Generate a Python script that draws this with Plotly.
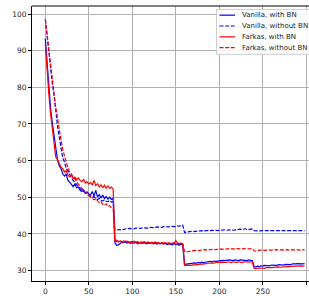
import plotly.graph_objects as go

# ---------------- data (every 2nd epoch) ----------------
epochs = list(range(0, 300, 2))

series_names = ["Vanilla, with BN", "Vanilla, without BN", "Farkas, with BN", "Farkas, without BN"]

vanilla_bn = [
    93.3, 86.0, 80.2, 74.5, 70.4, 66.8, 62.5, 60.2, 58.6, 57.9,
    56.4, 55.8, 56.3, 54.6, 54.1, 53.6, 52.9, 53.7, 52.6, 52.8,
    51.9, 51.6, 52.0, 51.1, 51.5, 50.9, 50.6, 51.6, 50.3, 51.9,
    50.1, 50.7, 49.8, 50.6, 49.7, 50.2, 49.5, 50.0, 49.4, 49.7,
    37.6, 36.9, 37.0, 37.4, 37.7, 37.6, 37.8, 37.5, 37.7, 37.4,
    37.6, 37.5, 37.7, 37.3, 37.6, 37.5, 37.4, 37.6, 37.3, 37.5,
    37.4, 37.6, 37.3, 37.5, 37.2, 37.4, 37.3, 37.5, 37.2, 37.4,
    37.1, 37.3, 37.2, 37.0, 37.3, 37.1, 37.2, 36.9, 37.2, 37.0,
    31.9, 31.7, 31.8, 31.9, 32.0, 31.9, 32.1, 32.0, 32.2, 32.1,
    32.3, 32.2, 32.3, 32.4, 32.3, 32.5, 32.4, 32.6, 32.5, 32.6,
    32.7, 32.6, 32.8, 32.7, 32.8, 32.7, 32.9, 32.8, 32.7, 32.9,
    32.8, 32.7, 32.9, 32.8, 32.9, 32.8, 32.7, 32.9, 32.8, 32.7,
    31.1, 31.0, 31.2, 31.1, 31.3, 31.2, 31.4, 31.3, 31.4, 31.3,
    31.5, 31.4, 31.5, 31.4, 31.6, 31.5, 31.6, 31.5, 31.7, 31.6,
    31.7, 31.6, 31.8, 31.7, 31.8, 31.9, 31.8, 31.9, 31.8, 31.9,
]

vanilla_nobn = [
    98.5, 93.8, 89.5, 85.2, 81.3, 78.0, 73.5, 69.5, 66.5, 63.5,
    60.8, 59.6, 58.0, 57.2, 56.0, 55.3, 54.6, 54.0, 53.3, 52.9,
    52.4, 52.0, 51.5, 51.2, 50.8, 50.5, 50.3, 49.9, 50.2, 49.6,
    49.4, 49.7, 49.2, 49.0, 49.3, 48.9, 48.8, 49.1, 48.7, 48.8,
    41.1, 41.0, 41.2, 41.1, 41.3, 41.2, 41.4, 41.3, 41.5, 41.4,
    41.5, 41.4, 41.6, 41.5, 41.6, 41.5, 41.7, 41.6, 41.7, 41.6,
    41.8, 41.7, 41.8, 41.7, 41.9, 41.8, 41.9, 41.8, 42.0, 41.9,
    42.0, 41.9, 42.1, 42.0, 42.1, 42.0, 42.2, 42.1, 42.3, 42.4,
    40.4, 40.5, 40.6, 40.5, 40.7, 40.6, 40.7, 40.8, 40.7, 40.8,
    40.9, 40.8, 40.9, 40.8, 41.0, 40.9, 41.0, 40.9, 41.0, 40.9,
    41.0, 41.1, 41.0, 41.1, 41.0, 41.1, 41.2, 41.1, 41.0, 41.1,
    41.2, 41.1, 41.3, 41.2, 41.3, 41.4, 41.2, 41.3, 41.2, 41.3,
    40.9, 40.8, 40.9, 40.8, 40.9, 40.9, 40.8, 40.9, 41.0, 40.9,
    40.9, 41.0, 40.9, 41.0, 40.9, 41.0, 41.0, 40.9, 41.0, 41.0,
    40.9, 41.0, 41.0, 40.9, 41.0, 41.0, 40.9, 41.0, 41.0, 40.9,
]

farkas_bn = [
    92.0, 84.0, 78.3, 72.8, 69.0, 65.3, 61.0, 60.3, 59.4, 58.2,
    57.8, 56.9, 57.3, 56.0, 55.6, 56.2, 55.1, 55.5, 54.8, 55.3,
    54.6, 54.2, 54.9, 53.9, 54.3, 53.6, 54.0, 53.4, 54.6, 53.2,
    53.7, 52.8, 53.4, 52.6, 53.3, 52.5, 53.1, 52.4, 52.8, 52.2,
    38.1, 38.3, 37.9, 38.0, 37.8, 38.1, 37.9, 38.0, 37.7, 37.9,
    37.8, 38.0, 37.7, 37.9, 37.6, 37.8, 37.7, 37.9, 37.6, 37.8,
    37.5, 37.7, 37.6, 37.8, 37.5, 37.6, 37.4, 37.7, 37.5, 37.6,
    37.4, 37.6, 37.3, 37.5, 37.4, 38.2, 37.4, 37.3, 37.5, 37.2,
    31.4, 31.3, 31.4, 31.5, 31.4, 31.6, 31.5, 31.7, 31.6, 31.8,
    31.7, 31.9, 31.8, 32.0, 31.9, 32.0, 32.1, 32.0, 32.2, 32.1,
    32.2, 32.3, 32.2, 32.3, 32.2, 32.4, 32.3, 32.2, 32.4, 32.3,
    32.2, 32.4, 32.3, 32.2, 32.4, 32.3, 32.2, 32.3, 32.4, 32.3,
    30.6, 30.5, 30.6, 30.7, 30.6, 30.7, 30.6, 30.8, 30.7, 30.8,
    30.8, 30.9, 30.8, 30.9, 31.0, 30.9, 31.0, 31.1, 31.0, 31.1,
    31.1, 31.2, 31.1, 31.2, 31.2, 31.3, 31.2, 31.3, 31.2, 31.3,
]

farkas_nobn = [
    98.6, 94.2, 89.8, 85.5, 81.6, 78.2, 74.5, 71.2, 68.5, 65.8,
    63.2, 61.0, 59.5, 58.2, 56.9, 56.3, 55.4, 55.0, 54.1, 53.6,
    53.0, 52.4, 52.0, 51.4, 51.0, 50.6, 50.1, 49.8, 49.3, 49.6,
    48.9, 48.5, 48.8, 48.1, 47.8, 48.2, 47.5, 47.7, 47.1, 46.9,
    37.9, 38.0, 37.8, 38.1, 37.9, 37.7, 38.0, 37.8, 37.9, 37.6,
    37.9, 37.7, 37.8, 37.6, 37.8, 37.7, 37.5, 37.8, 37.6, 37.7,
    37.5, 37.6, 37.4, 37.7, 37.6, 37.4, 37.6, 37.5, 37.3, 37.6,
    37.5, 37.3, 37.5, 37.4, 37.6, 37.3, 37.5, 37.4, 37.6, 37.3,
    35.2, 35.0, 35.2, 35.3, 35.4, 35.3, 35.5, 35.4, 35.5, 35.6,
    35.5, 35.6, 35.7, 35.6, 35.7, 35.6, 35.8, 35.7, 35.8, 35.7,
    35.8, 35.9, 35.8, 35.9, 35.8, 35.9, 36.0, 35.9, 35.8, 35.9,
    36.0, 35.9, 36.0, 35.9, 36.0, 35.9, 36.0, 35.9, 36.0, 35.9,
    35.4, 35.3, 35.5, 35.6, 35.5, 35.6, 35.5, 35.6, 35.7, 35.6,
    35.6, 35.7, 35.6, 35.7, 35.6, 35.7, 35.7, 35.6, 35.7, 35.7,
    35.6, 35.7, 35.7, 35.6, 35.7, 35.7, 35.6, 35.7, 35.7, 35.7,
]

x_ticks = [0, 50, 100, 150, 200, 250, 300]
y_ticks = [30, 40, 50, 60, 70, 80, 90, 100]

series_values = [vanilla_bn, vanilla_nobn, farkas_bn, farkas_nobn]
series_colors = ["#0000ff", "#0000ff", "#ff0000", "#ff0000"]
series_dash = ["solid", "4px,1.6px", "solid", "4px,1.6px"]

# ---------------- figure ----------------
W, H = 309, 296
ML, MR, MT, MB = 32, 0, 6, 11
PW, PH = W - ML - MR, H - MT - MB
FONT = "DejaVu Sans"


def px_x(px):
    return (px - ML) / PW


def px_y(py):
    return (H - MB - py) / PH


fig = go.Figure()
for name, vals, col, dash in zip(series_names, series_values, series_colors, series_dash):
    fig.add_trace(go.Scatter(
        x=epochs, y=vals, mode="lines", name=name,
        line=dict(color=col, width=1.2, dash=dash),
        showlegend=False,
    ))

axis_common = dict(
    showgrid=True, gridcolor="#b0b0b0", gridwidth=1,
    showline=True, linecolor="black", linewidth=1,
    ticks="outside", ticklen=3, tickcolor="black", tickwidth=1,
    tickfont=dict(family=FONT, size=7.5, color="#222222"),
    zeroline=False,
)

fig.update_xaxes(range=[-15.3, 303.1], tickvals=x_ticks, mirror=False, **axis_common)
fig.update_yaxes(range=[27.15, 102.2], tickvals=y_ticks, **axis_common)

shapes = []
annotations = []

# top spine
shapes.append(dict(type="line", xref="paper", yref="paper", x0=0, x1=1, y0=1, y1=1,
                   line=dict(color="black", width=1), layer="above"))

# legend box
shapes.append(dict(type="rect", xref="paper", yref="paper",
                   x0=px_x(216.5), x1=px_x(320), y0=px_y(55), y1=px_y(9.5),
                   fillcolor="rgba(255,255,255,0.85)", line=dict(color="#cccccc", width=1),
                   layer="above"))
row_y = [15.3, 26.3, 37.3, 48.3]
for name, col, dash, ry in zip(series_names, series_colors, series_dash, row_y):
    shapes.append(dict(type="line", xref="paper", yref="paper",
                       x0=px_x(219.5), x1=px_x(235), y0=px_y(ry), y1=px_y(ry),
                       line=dict(color=col, width=1.2, dash=dash), layer="above"))
    annotations.append(dict(xref="paper", yref="paper", x=px_x(239.5), y=px_y(ry),
                            text=name, showarrow=False, xanchor="left", yanchor="middle",
                            font=dict(family=FONT, size=7, color="#222222")))

fig.update_layout(
    width=W, height=H,
    margin=dict(l=ML, r=MR, t=MT, b=MB, pad=0),
    paper_bgcolor="white", plot_bgcolor="white",
    shapes=shapes, annotations=annotations,
    showlegend=False,
)

fig.write_html("out.html", config={"displayModeBar": False},
               post_script="document.body.style.margin='0';document.body.style.overflow='hidden';")
